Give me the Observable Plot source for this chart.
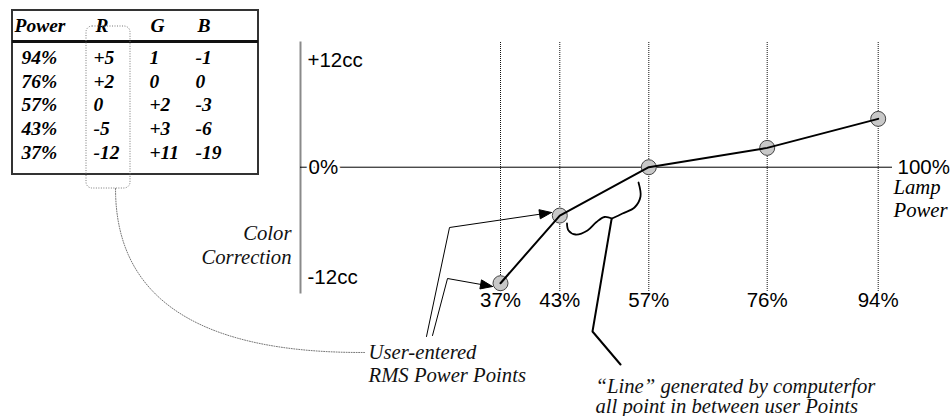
<!DOCTYPE html>
<html>
<head>
<meta charset="utf-8">
<script src="https://cdn.jsdelivr.net/npm/d3@7"></script>
<script src="https://cdn.jsdelivr.net/npm/@observablehq/plot@0.6"></script>
<style>
  html, body { margin: 0; padding: 0; background: white; }
  #wrap { position: relative; width: 950px; height: 416px; overflow: hidden; }
  #wrap svg { position: absolute; left: 0; top: 0; }
</style>
</head>
<body>
<div id="wrap"></div>
<script>
// ---------- data ----------
const powerPct    = [94, 76, 57, 43, 37];
const powerLabels = ["94%", "76%", "57%", "43%", "37%"];
const rValues     = [5, 2, 0, -5, -12];
const rLabels     = ["+5", "+2", "0", "-5", "-12"];
const gLabels     = ["1", "0", "+2", "+3", "+11"];
const bLabels     = ["-1", "0", "-3", "-6", "-19"];
const headers     = ["Power", "R", "G", "B"];
const yTickValues = [12, -12];
const yTickLabels = ["+12cc", "-12cc"];

// ---------- styles ----------
const SANS = "'Liberation Sans', Arial, Helvetica, sans-serif";
const SERIF = "'Liberation Serif', 'Times New Roman', Times, serif";
const SANS_SIZE = 20.5;
const ITALIC_SIZE = 20.7;

const points = powerPct.map((p, i) => ({p, r: rValues[i], label: powerLabels[i]}))
  .sort((a, b) => a.p - b.p);

// ---------- chart ----------
const chart = Plot.plot({
  width: 950, height: 416,
  marginTop: 42, marginBottom: 124, marginLeft: 300, marginRight: 58,
  x: {type: "linear", domain: [37, 43, 57, 76, 94], range: [500, 559.3, 648.3, 766.7, 877.7], axis: null},
  y: {domain: [-12.96, 12.9], axis: null},
  style: {background: "transparent", overflow: "visible"},
  marks: [
    Plot.ruleX(points, {x: "p", stroke: "#111", strokeDasharray: "1,1", strokeWidth: 1}),
    Plot.frame({anchor: "left", stroke: "#8a8a8a", strokeWidth: 2}),
    Plot.ruleY([0], {stroke: "#000", strokeWidth: 1}),
    Plot.text([0], {y: d => d, text: () => "0%", frameAnchor: "left", dx: 8, textAnchor: "start",
      fill: "#000", stroke: "white", strokeWidth: 5, fontFamily: SANS, fontSize: SANS_SIZE}),
    Plot.text([yTickValues[0]], {y: d => d, text: () => yTickLabels[0], frameAnchor: "left", dx: 7, dy: 9,
      textAnchor: "start", fill: "#000", fontFamily: SANS, fontSize: SANS_SIZE}),
    Plot.text([yTickValues[1]], {y: d => d, text: () => yTickLabels[1], frameAnchor: "left", dx: 7, dy: -6,
      textAnchor: "start", fill: "#000", fontFamily: SANS, fontSize: SANS_SIZE}),
    Plot.text([0], {y: d => d, text: () => "100%", frameAnchor: "right", dx: 5, textAnchor: "start",
      fill: "#000", fontFamily: SANS, fontSize: SANS_SIZE}),
    Plot.text([0], {y: d => d, text: () => "Lamp", frameAnchor: "right", dx: 1, dy: 20.5, textAnchor: "start",
      fill: "#000", fontFamily: SERIF, fontStyle: "italic", fontSize: ITALIC_SIZE}),
    Plot.text([0], {y: d => d, text: () => "Power", frameAnchor: "right", dx: 1, dy: 43.5, textAnchor: "start",
      fill: "#000", fontFamily: SERIF, fontStyle: "italic", fontSize: ITALIC_SIZE}),
    Plot.text(points, {x: "p", text: "label", frameAnchor: "bottom", dy: 14,
      fill: "#000", fontFamily: SANS, fontSize: SANS_SIZE}),
    Plot.dot(points, {x: "p", y: "r", r: 7.5, fill: "#c8c8c8", stroke: "#444", strokeWidth: 1}),
    Plot.line(points, {x: "p", y: "r", stroke: "#000", strokeWidth: 2})
  ]
});

// ---------- table + annotations overlay (pixel geometry) ----------
const rowY = i => 57 + i * 23.75;
const tableBox = [{x1: 12, x2: 258, y1: 10, y2: 174}];
const headerRule = [{x1: 12, x2: 258, y: 41}];
const headerX = [14, 95, 150, 197];
const colX = [21, 93, 149, 195];
const rBox = [{x1: 86, x2: 130, y1: 26, y2: 188}];

// quadratic connector from the R box to the "User-entered" label
const cP0 = {x: 115, y: 188}, cP1 = {x: 115, y: 353}, cP2 = {x: 364, y: 352};
const dottedCurve = d3.range(0, 1.0001, 1 / 40).map(t => ({
  x: (1 - t) * (1 - t) * cP0.x + 2 * (1 - t) * t * cP1.x + t * t * cP2.x,
  y: (1 - t) * (1 - t) * cP0.y + 2 * (1 - t) * t * cP1.y + t * t * cP2.y
}));
const arrowA = [{x: 426, y: 336}, {x: 449, y: 227}, {x: 551, y: 212}];
const arrowB = [{x: 432, y: 335}, {x: 447, y: 278}, {x: 492, y: 286}];
const braceR = [{x: 638, y: 182}, {x: 640, y: 196}, {x: 634, y: 207}, {x: 622, y: 213}, {x: 611.5, y: 218}];
const braceL = [{x: 611.5, y: 218}, {x: 604, y: 216.5}, {x: 596, y: 221.5}, {x: 587, y: 230}, {x: 575, y: 234}, {x: 568, y: 230}, {x: 566.5, y: 223}];
const pointer = [{x: 611, y: 219}, {x: 592, y: 331}, {x: 620, y: 364}];

function head(path, len = 12, hw = 4.6) {
  const t = path[path.length - 1], f = path[path.length - 2];
  const dx = t.x - f.x, dy = t.y - f.y, L = Math.hypot(dx, dy);
  const ux = dx / L, uy = dy / L;
  const bx = t.x - ux * len, by = t.y - uy * len;
  return [{x: t.x, y: t.y}, {x: bx - uy * hw, y: by + ux * hw}, {x: bx + uy * hw, y: by - ux * hw}, {x: t.x, y: t.y}];
}
function shaft(path, len = 10) {
  const t = path[path.length - 1], f = path[path.length - 2];
  const dx = t.x - f.x, dy = t.y - f.y, L = Math.hypot(dx, dy);
  return [...path.slice(0, -1), {x: t.x - dx / L * len, y: t.y - dy / L * len}];
}

const tableText = (labels, col) => Plot.text(labels, {
  x: () => colX[col], y: (d, i) => rowY(i), text: d => d, textAnchor: "start",
  fill: "#000", fontFamily: SERIF, fontStyle: "italic", fontWeight: "bold", fontSize: 19.5
});

const overlay = Plot.plot({
  width: 950, height: 416,
  marginTop: 0, marginBottom: 0, marginLeft: 0, marginRight: 0,
  x: {type: "identity", axis: null},
  y: {type: "identity", axis: null},
  style: {background: "transparent", overflow: "visible", pointerEvents: "none"},
  marks: [
    Plot.rect(tableBox, {x1: "x1", x2: "x2", y1: "y1", y2: "y2", fill: "none", stroke: "#333", strokeWidth: 2}),
    Plot.ruleY(headerRule, {x1: "x1", x2: "x2", y: "y", stroke: "#111", strokeWidth: 3}),
    Plot.text(headers, {x: (d, i) => headerX[i], y: () => 25, text: d => d, textAnchor: "start",
      fill: "#000", fontFamily: SERIF, fontStyle: "italic", fontWeight: "bold", fontSize: 19.5}),
    tableText(powerLabels, 0),
    tableText(rLabels, 1),
    tableText(gLabels, 2),
    tableText(bLabels, 3),
    Plot.rect(rBox, {x1: "x1", x2: "x2", y1: "y1", y2: "y2", rx: 6, fill: "none", stroke: "#777",
      strokeWidth: 1, strokeDasharray: "1,1.5"}),
    Plot.line(dottedCurve, {x: "x", y: "y", stroke: "#777", strokeWidth: 1, strokeDasharray: "1,1.5"}),
    Plot.line(shaft(arrowA), {x: "x", y: "y", stroke: "#000", strokeWidth: 1}),
    Plot.line(head(arrowA), {x: "x", y: "y", fill: "#000", stroke: "#000", strokeWidth: 1}),
    Plot.line(shaft(arrowB), {x: "x", y: "y", stroke: "#000", strokeWidth: 1}),
    Plot.line(head(arrowB), {x: "x", y: "y", fill: "#000", stroke: "#000", strokeWidth: 1}),
    Plot.line(braceR, {x: "x", y: "y", curve: "catmull-rom", stroke: "#000", strokeWidth: 1.8}),
    Plot.line(braceL, {x: "x", y: "y", curve: "catmull-rom", stroke: "#000", strokeWidth: 1.8}),
    Plot.line(pointer, {x: "x", y: "y", stroke: "#000", strokeWidth: 2}),
    Plot.text(["User-entered", "RMS Power Points"], {x: () => 368, y: (d, i) => 352 + i * 23, text: d => d,
      textAnchor: "start", fill: "#111", fontFamily: SERIF, fontStyle: "italic", fontSize: ITALIC_SIZE}),
    Plot.text(["Color", "Correction"], {x: () => 291, y: (d, i) => 233 + i * 24, text: d => d,
      textAnchor: "end", fill: "#111", fontFamily: SERIF, fontStyle: "italic", fontSize: ITALIC_SIZE}),
    Plot.text(["\u201cLine\u201d generated by computerfor", "all point in between user Points"], {
      x: () => 595, y: (d, i) => 386 + i * 20, text: d => d,
      textAnchor: "start", fill: "#111", fontFamily: SERIF, fontStyle: "italic", fontSize: ITALIC_SIZE})
  ]
});

const wrap = document.getElementById("wrap");
wrap.appendChild(chart);
wrap.appendChild(overlay);
</script>
</body>
</html>
